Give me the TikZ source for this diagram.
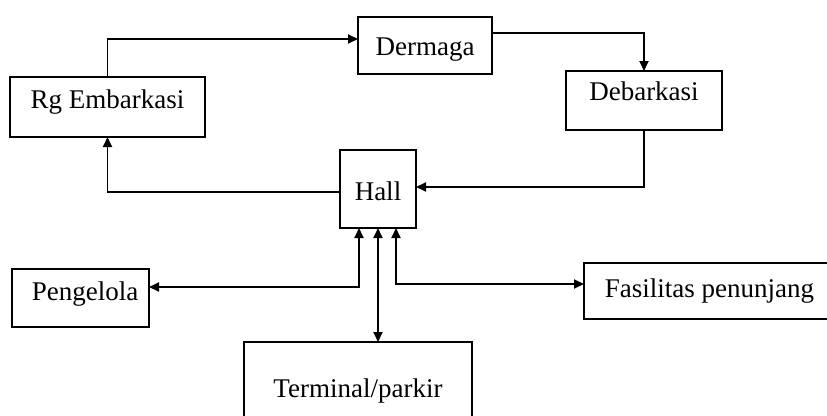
\documentclass[tikz,border=0pt]{standalone}
\usepackage{fontspec}
\setmainfont{Liberation Serif}
\usetikzlibrary{arrows.meta}
\begin{document}
\begin{tikzpicture}[x=1pt,y=-1pt,
  box/.style={draw, line width=1.8pt, inner sep=0pt, outer sep=0pt,
    font=\fontsize{27}{32}\selectfont, text height=19pt, text depth=6pt},
  arr/.style={line width=1.8pt, -{Triangle[length=10pt,width=9pt]}},
  arrb/.style={line width=1.8pt, {Triangle[length=10pt,width=9pt]}-{Triangle[length=10pt,width=9pt]}}]
\useasboundingbox (0,0) rectangle (827,415);
\clip (0,0) rectangle (827,415);
\node[box, minimum width=195pt, minimum height=60pt, text depth=17pt] (rg) at (107.5,107) {Rg Embarkasi};
\node[box, minimum width=134pt, minimum height=57pt, text height=25pt] (derm) at (425,45.5) {Dermaga};
\node[box, minimum width=156pt, minimum height=59pt, text depth=20pt] (deb) at (644,100.5) {Debarkasi\hspace{12pt}};
\node[box, minimum width=76pt, minimum height=78pt, text height=28pt] (hall) at (378,189) {Hall};
\node[box, minimum width=137pt, minimum height=58pt, text depth=15pt] (peng) at (80.5,298) {\hspace{9pt}Pengelola};
\node[box, minimum width=251pt, minimum height=56pt] (fas) at (709.5,291) {Fasilitas penunjang\hspace{8pt}};
\node[box, minimum width=228pt, minimum height=98pt] (term) at (358,391) {Terminal/parkir\hspace{20pt}};
\draw[arr] (rg.north) |- ([yshift=6.5pt]derm.west);
\draw[arr] ([yshift=12.5pt]derm.east) -| (deb.north);
\draw[arr] (deb.south) |- ([yshift=2pt]hall.east);
\draw[arr] ([yshift=-3pt]hall.west) -| (rg.south);
\draw[arrb] ([xshift=-19pt]hall.south) |- ([yshift=11pt]peng.east);
\draw[arrb] ([xshift=18pt]hall.south) |- ([yshift=7pt]fas.west);
\draw[arrb] (hall.south) -- (hall.south |- term.north);
\end{tikzpicture}
\end{document}
